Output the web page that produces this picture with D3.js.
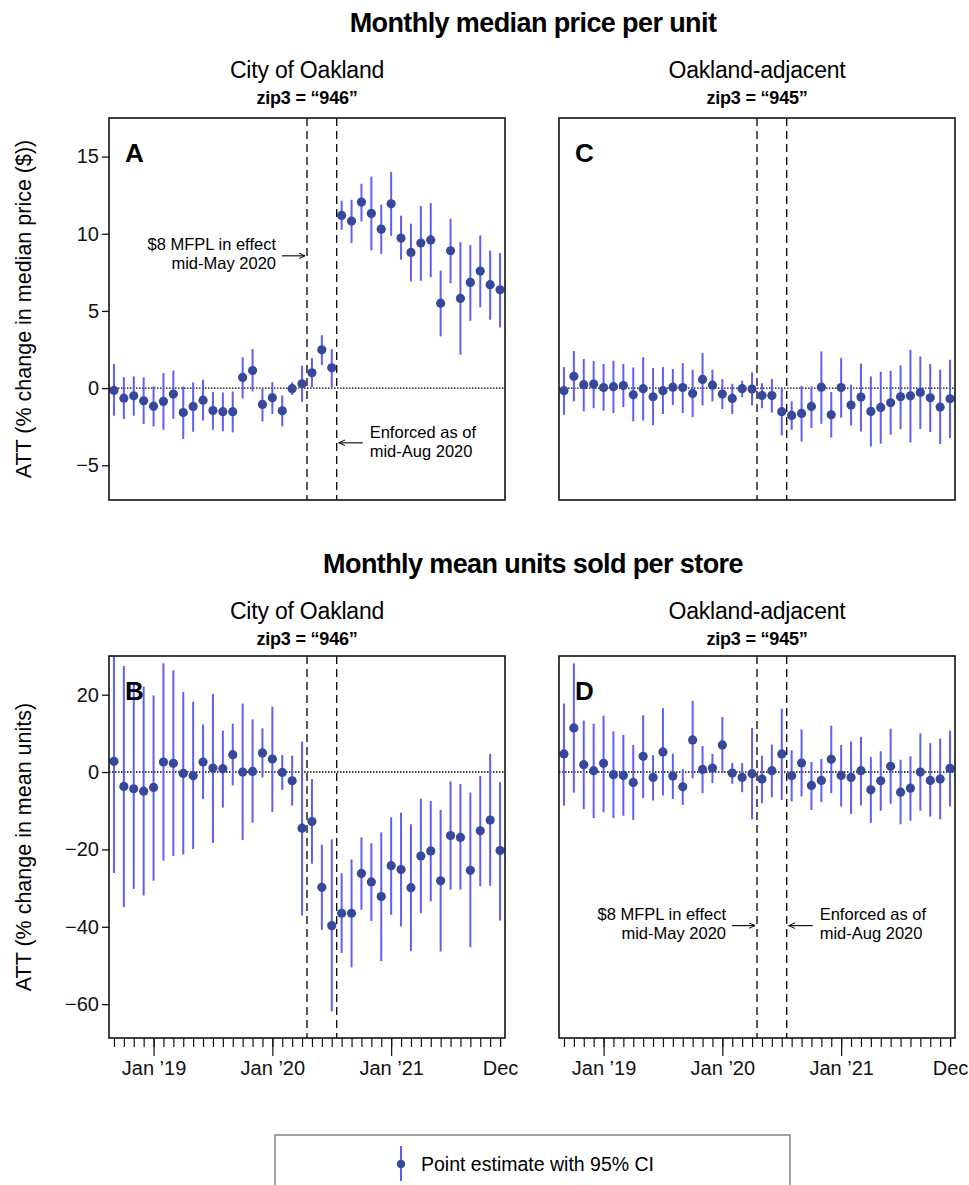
<!DOCTYPE html>
<html>
<head>
<meta charset="utf-8">
<script src="https://cdn.jsdelivr.net/npm/d3@7"></script>
<style>
  body { margin: 0; background: #fff; }
  svg { font-family: "Liberation Sans", Arial, sans-serif; }
</style>
</head>
<body>
<div id="chart"></div>
<script>
const F_WIDTH = 969;
const F_HEIGHT = 1185;

// Sep 2018 .. Dec 2021
const MONTHS = d3.range(40).map((i) => d3.timeFormat("%Y-%m")(new Date(2018, 8 + i, 1)));
const MAJOR_TICKS = [{i: 4, label: "Jan \u201919"}, {i: 16, label: "Jan \u201920"}, {i: 28, label: "Jan \u201921"}, {i: 39, label: "Dec"}];
const POLICY_LINES = [19.5, 22.5];

// Panel A: median price, zip3 946
const A_EST = [-0.15, -0.65, -0.5, -0.82, -1.17, -0.86, -0.39, -1.58, -1.19, -0.78,
  -1.45, -1.53, -1.53, 0.69, 1.14, -1.06, -0.63, -1.47, -0.04, 0.28,
  0.99, 2.48, 1.32, 11.19, 10.82, 12.05, 11.32, 10.3, 11.94, 9.72,
  8.79, 9.4, 9.6, 5.5, 8.9, 5.81, 6.85, 7.58, 6.7, 6.37];
const A_HI = [1.56, 0.71, 0.76, 0.69, 0.11, 0.97, 1.14, 0.11, 0.37, 0.54,
  -0.26, -0.28, -0.22, 2.0, 2.53, -0.02, 0.39, -0.48, 0.37, 1.45,
  1.94, 3.43, 2.53, 12.14, 12.2, 13.24, 13.7, 11.88, 14.0, 11.17,
  10.65, 11.8, 11.99, 7.62, 10.97, 9.46, 9.27, 9.89, 8.9, 8.75];
const A_LO = [-1.79, -2.0, -1.79, -2.33, -2.48, -2.7, -1.99, -3.3, -2.83, -2.1,
  -2.7, -2.8, -2.87, -0.67, -0.22, -2.16, -1.68, -2.48, -0.45, -0.89,
  0.06, 1.49, 0.06, 10.26, 9.4, 10.8, 8.92, 8.7, 9.87, 8.32,
  6.91, 6.95, 7.19, 3.35, 6.8, 2.16, 4.36, 5.23, 4.43, 3.93];

// Panel C: median price, zip3 945
const C_EST = [-0.17, 0.76, 0.22, 0.26, 0.04, 0.09, 0.17, -0.43, -0.04, -0.56,
  -0.17, 0.06, 0.04, -0.35, 0.56, 0.19, -0.39, -0.67, -0.04, -0.06,
  -0.48, -0.48, -1.53, -1.77, -1.64, -1.19, 0.06, -1.73, 0.04, -1.1,
  -0.58, -1.51, -1.25, -0.95, -0.56, -0.5, -0.28, -0.63, -1.23, -0.69];
const C_HI = [1.36, 2.4, 1.88, 1.75, 1.56, 1.77, 1.56, 1.34, 2.0, 1.3,
  1.36, 1.23, 1.62, 1.19, 2.27, 1.19, 0.58, 0.28, 0.48, 1.02,
  0.32, 0.6, 0.04, -0.86, 0.15, 0.11, 2.38, -0.26, 1.94, 0.22,
  1.58, 0.76, 1.06, 1.12, 1.47, 2.48, 2.05, 1.56, 1.19, 1.84];
const C_LO = [-1.73, -0.86, -1.51, -1.3, -1.47, -1.62, -1.23, -2.16, -2.1, -2.4,
  -1.68, -1.1, -1.62, -1.88, -1.12, -0.86, -1.36, -1.68, -0.58, -1.12,
  -1.3, -1.58, -3.07, -2.7, -3.46, -2.59, -2.31, -3.2, -1.92, -2.42,
  -2.81, -3.78, -3.6, -3.02, -2.66, -3.52, -2.66, -2.85, -3.63, -3.24];

// Panel B: mean units, zip3 946
const B_EST = [2.77, -3.72, -4.33, -4.94, -3.98, 2.6, 2.25, -0.35, -0.95, 2.6,
  1.04, 0.87, 4.5, 0, 0.17, 4.94, 3.38, -0.09, -2.25, -14.5,
  -12.8, -29.8, -39.7, -36.5, -36.5, -26.2, -28.4, -32.2, -24.2, -25.2,
  -29.9, -21.7, -20.4, -28.1, -16.4, -16.9, -25.4, -15.2, -12.4, -20.3];
const B_HI = [32, 27.4, 23, 22.1, 19.8, 28.1, 26.3, 20.7, 18.2, 12.3,
  20.2, 10.7, 12.5, 17.7, 13.6, 11.3, 16.9, 4.4, 4.24, 7.88,
  -1.82, -18.8, -17.4, -26.2, -22.6, -16.9, -18.4, -15.6, -11.7, -10.5,
  -13.5, -6.9, -7.5, -9.8, -2.4, -3.1, -5.3, -1.0, 4.7, -2.6];
const B_LO = [-26.1, -34.9, -30.2, -31.9, -28.1, -22.9, -21.7, -21.3, -19.9, -7.0,
  -18.3, -9.2, -3.46, -17.6, -13.1, -1.39, -10.3, -4.6, -8.66, -37.1,
  -23.7, -40.8, -61.9, -46.8, -50.5, -35.6, -38.5, -48.9, -36.9, -39.9,
  -46.3, -36.5, -33.4, -46.4, -30.4, -30.4, -45.3, -29.5, -29.4, -38.4];

// Panel D: mean units, zip3 945
const D_EST = [4.68, 11.4, 1.9, 0.35, 2.25, -0.69, -0.87, -2.68, 4.07, -1.39,
  5.2, -1.04, -3.8, 8.3, 0.69, 1.04, 7.0, -0.26, -1.39, -0.43,
  -1.82, 0.35, 4.68, -0.95, 2.34, -3.46, -2.16, 3.29, -0.87, -1.39,
  0.35, -4.6, -2.25, 1.47, -5.2, -4.16, 0, -2.16, -1.82, 0.95];
const D_HI = [17.7, 28.1, 13.3, 12.5, 14.6, 10.5, 9.6, 7.0, 14.7, 4.4,
  16.5, 4.76, 0.78, 18.4, 6.75, 4.68, 14.2, 2.34, 2.34, 11.4,
  4.24, 7.1, 16.4, 5.63, 11.0, 2.6, 3.38, 12.0, 7.0, 7.9,
  9.1, 3.9, 5.37, 11.2, 3.2, 4.07, 10.0, 7.45, 8.66, 10.7];
const D_LO = [-8.66, -5.3, -9.6, -11.9, -10.4, -11.9, -11.3, -12.4, -6.75, -7.36,
  -6.06, -6.93, -8.5, -1.64, -5.45, -2.86, -0.26, -3.03, -5.2, -12.2,
  -8.05, -6.5, -7.2, -7.6, -6.3, -9.8, -7.8, -5.45, -8.9, -10.8,
  -8.66, -13.1, -10.0, -8.2, -13.5, -12.6, -10.0, -11.5, -12.2, -8.9];

const PRICE_TICKS = [-5, 0, 5, 10, 15];
const UNITS_TICKS = [-60, -40, -20, 0, 20];

const DOT_COLOR = "#37489a";
const CI_COLOR = "#5f5ff5";

const COL_X = [109, 559];
const ROW_Y = [118, 656];
const P_W = 396;
const P_H = 382;

const svg = d3.select("#chart")
  .append("svg")
    .attr("width", F_WIDTH)
    .attr("height", F_HEIGHT);

const X_SCALE = d3.scaleLinear()
  .domain([-0.5, 39.5])
  .range([0, P_W]);

const minus = (v) => String(v).replace("-", "\u2212");

function panel(opts) {
  const Y_SCALE = d3.scaleLinear()
    .domain(opts.domain)
    .range([P_H, 0]);

  const g = svg.append("g")
    .attr("transform", "translate(" + opts.x + "," + opts.y + ")");

  const clipId = "clip" + opts.letter;
  g.append("clipPath").attr("id", clipId)
    .append("rect").attr("width", P_W).attr("height", P_H);

  const plot = g.append("g").attr("clip-path", "url(#" + clipId + ")");

  // zero line
  plot.append("line")
    .attr("x1", 0).attr("x2", P_W)
    .attr("y1", Y_SCALE(0)).attr("y2", Y_SCALE(0))
    .attr("stroke", "#000")
    .attr("stroke-width", 1.4)
    .attr("stroke-dasharray", "1.5,1.5");

  // policy lines
  plot.selectAll(".policy")
    .data(POLICY_LINES)
    .enter()
    .append("line")
      .attr("x1", (d) => X_SCALE(d)).attr("x2", (d) => X_SCALE(d))
      .attr("y1", 0).attr("y2", P_H)
      .attr("stroke", "#000")
      .attr("stroke-width", 1.3)
      .attr("stroke-dasharray", "8,5");

  const data = MONTHS.map((m, i) => ({m: m, i: i, est: opts.est[i], hi: opts.hi[i], lo: opts.lo[i]}));

  plot.selectAll(".ci")
    .data(data)
    .enter()
    .append("line")
      .attr("x1", (d) => X_SCALE(d.i)).attr("x2", (d) => X_SCALE(d.i))
      .attr("y1", (d) => Y_SCALE(d.hi)).attr("y2", (d) => Y_SCALE(d.lo))
      .attr("stroke", CI_COLOR)
      .attr("stroke-width", 2);

  plot.selectAll(".pt")
    .data(data)
    .enter()
    .append("circle")
      .attr("cx", (d) => X_SCALE(d.i))
      .attr("cy", (d) => Y_SCALE(d.est))
      .attr("r", 4.6)
      .attr("fill", DOT_COLOR);

  // frame
  g.append("rect")
    .attr("width", P_W).attr("height", P_H)
    .attr("fill", "none")
    .attr("stroke", "#111")
    .attr("stroke-width", 1.6);

  // panel letter
  g.append("text")
    .attr("x", 16).attr("y", 44)
    .attr("font-size", 26)
    .attr("font-weight", "bold")
    .text(opts.letter);

  if (opts.yAxis) {
    const ax = g.append("g")
      .call(d3.axisLeft(Y_SCALE).tickValues(opts.ticks).tickSize(7).tickPadding(3).tickFormat(minus));
    ax.select(".domain").remove();
    ax.selectAll("line").attr("stroke", "#111").attr("stroke-width", 1.3);
    ax.selectAll("text").attr("font-size", 20).attr("font-family", "Liberation Sans, Arial, sans-serif").attr("fill", "#111");

    g.append("text")
      .attr("transform", "translate(" + (31 - opts.x) + "," + (P_H / 2) + ") rotate(-90)")
      .attr("text-anchor", "middle")
      .attr("font-size", 21.5)
      .text(opts.yLabel);
  }

  if (opts.xAxis) {
    const minor = g.append("g")
      .attr("transform", "translate(0," + P_H + ")")
      .call(d3.axisBottom(X_SCALE).tickValues(d3.range(40)).tickSize(9).tickFormat(""));
    minor.select(".domain").remove();
    minor.selectAll("line").attr("stroke", "#111").attr("stroke-width", 1.2);

    const major = g.append("g")
      .attr("transform", "translate(0," + P_H + ")")
      .call(d3.axisBottom(X_SCALE)
        .tickValues(MAJOR_TICKS.map((d) => d.i))
        .tickSize(18).tickPadding(5)
        .tickFormat((v) => MAJOR_TICKS.find((d) => d.i === v).label));
    major.select(".domain").remove();
    major.selectAll("line").attr("stroke", "#111").attr("stroke-width", 1.2)
      .filter((v) => v === 39).attr("y2", 9);
    major.selectAll("text").attr("font-size", 20).attr("font-family", "Liberation Sans, Arial, sans-serif").attr("fill", "#111");
    major.selectAll(".tick").filter((v) => v === 39).select("text").attr("y", 23);
  }

  if (opts.notes) {
    const ny = Y_SCALE(opts.notes.y);
    const x1 = X_SCALE(POLICY_LINES[0]);
    const x2 = X_SCALE(POLICY_LINES[1]);
    const gy = opts.notes.dy;

    const left = g.append("text")
      .attr("text-anchor", "end")
      .attr("font-size", 16.5);
    left.append("tspan").attr("x", x1 - 31).attr("y", ny + opts.notes.leftOff).text("$8 MFPL in effect");
    left.append("tspan").attr("x", x1 - 31).attr("y", ny + opts.notes.leftOff + 19.5).text("mid-May 2020");
    g.append("line")
      .attr("x1", x1 - 25).attr("x2", x1 - 2)
      .attr("y1", ny + opts.notes.arrowL).attr("y2", ny + opts.notes.arrowL)
      .attr("stroke", "#000").attr("stroke-width", 1.1)
      .attr("marker-end", "url(#arrow)");

    const right = g.append("text")
      .attr("font-size", 16.5);
    right.append("tspan").attr("x", x2 + 33).attr("y", ny + gy).text("Enforced as of");
    right.append("tspan").attr("x", x2 + 33).attr("y", ny + gy + 19.5).text("mid-Aug 2020");
    g.append("line")
      .attr("x1", x2 + 26).attr("x2", x2 + 2)
      .attr("y1", ny + opts.notes.arrowR).attr("y2", ny + opts.notes.arrowR)
      .attr("stroke", "#000").attr("stroke-width", 1.1)
      .attr("marker-end", "url(#arrow)");
  }
}

// arrow head
svg.append("defs").append("marker")
  .attr("id", "arrow")
  .attr("viewBox", "0 0 10 10")
  .attr("refX", 9).attr("refY", 5)
  .attr("markerWidth", 7).attr("markerHeight", 7)
  .attr("markerUnits", "userSpaceOnUse")
  .attr("orient", "auto")
  .append("path")
    .attr("d", "M0,1 L9,5 L0,9")
    .attr("fill", "none")
    .attr("stroke", "#000")
    .attr("stroke-width", 1.4);

// titles
function titles(y0, title) {
  svg.append("text")
    .attr("x", 533).attr("y", y0)
    .attr("text-anchor", "middle")
    .attr("font-size", 27)
    .attr("font-weight", "bold")
    .attr("letter-spacing", -0.6)
    .text(title);
  [["City of Oakland", "zip3 = \u201c946\u201d"], ["Oakland-adjacent", "zip3 = \u201c945\u201d"]].forEach((t, k) => {
    const cx = COL_X[k] + P_W / 2;
    svg.append("text")
      .attr("x", cx).attr("y", y0 + 46)
      .attr("text-anchor", "middle")
      .attr("font-size", 23)
      .attr("letter-spacing", -0.2)
      .text(t[0]);
    svg.append("text")
      .attr("x", cx).attr("y", y0 + 72)
      .attr("text-anchor", "middle")
      .attr("font-size", 18)
      .attr("font-weight", "bold")
      .attr("letter-spacing", -0.2)
      .text(t[1]);
  });
}

titles(32, "Monthly median price per unit");
titles(573, "Monthly mean units sold per store");

panel({letter: "A", x: COL_X[0], y: ROW_Y[0], domain: [-7.25, 17.5], est: A_EST, hi: A_HI, lo: A_LO,
  yAxis: true, ticks: PRICE_TICKS, yLabel: "ATT (% change in median price ($))",
  notes: {y: 8.57, leftOff: -6, arrowL: 0, dy: 182, arrowR: 187}});
panel({letter: "C", x: COL_X[1], y: ROW_Y[0], domain: [-7.25, 17.5], est: C_EST, hi: C_HI, lo: C_LO});
panel({letter: "B", x: COL_X[0], y: ROW_Y[1], domain: [-68.75, 30], est: B_EST, hi: B_HI, lo: B_LO,
  yAxis: true, ticks: UNITS_TICKS, yLabel: "ATT (% change in mean units)", xAxis: true});
panel({letter: "D", x: COL_X[1], y: ROW_Y[1], domain: [-68.75, 30], est: D_EST, hi: D_HI, lo: D_LO,
  xAxis: true, notes: {y: -39.7, leftOff: -6, arrowL: 0, dy: -6, arrowR: 0}});

// legend
const LEG = svg.append("g").attr("transform", "translate(275,1135)");
LEG.append("rect")
  .attr("width", 515).attr("height", 70)
  .attr("fill", "none")
  .attr("stroke", "#666")
  .attr("stroke-width", 1.2);
LEG.append("line")
  .attr("x1", 126).attr("x2", 126).attr("y1", 11).attr("y2", 46)
  .attr("stroke", CI_COLOR).attr("stroke-width", 2);
LEG.append("circle")
  .attr("cx", 126).attr("cy", 29).attr("r", 4.2)
  .attr("fill", DOT_COLOR);
LEG.append("text")
  .attr("x", 146).attr("y", 36)
  .attr("font-size", 19.5)
  .text("Point estimate with 95% CI");
</script>
</body>
</html>
